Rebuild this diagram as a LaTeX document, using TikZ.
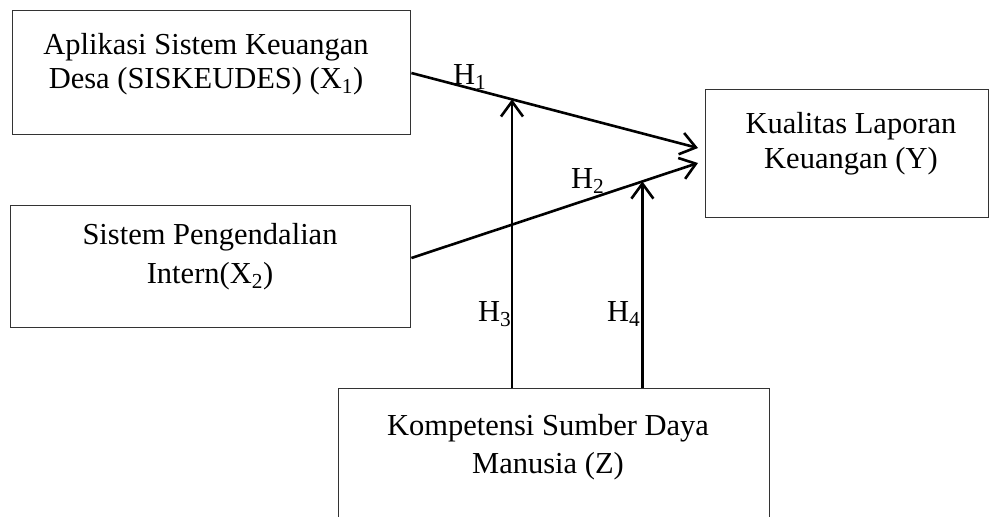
\documentclass[tikz,border=0pt]{standalone}
\usepackage{fontspec}
\setmainfont{Liberation Serif}
\usetikzlibrary{arrows.meta,calc}
\begin{document}
\begin{tikzpicture}[x=1pt,y=-1pt,
  box/.style={draw=black!80, line width=1.4pt, inner sep=0pt, anchor=north west},
  txt/.style={anchor=base, inner sep=0pt, font=\fontsize{30.5}{36}\selectfont},
  hl/.style={anchor=base west, inner sep=0pt, font=\fontsize{30.5}{36}\selectfont},
  arr/.style={line width=2.6pt, -{Straight Barb[length=15pt,width=22pt]}}]
\useasboundingbox (0,0) rectangle (989,517);
\clip (0,0) rectangle (989,517);
% boxes
\node[box, minimum width=398pt, minimum height=124pt] (x1) at (12,10) {};
\node[box, minimum width=400pt, minimum height=122pt] (x2) at (10,205) {};
\node[box, minimum width=283pt, minimum height=128pt] (y) at (705,89) {};
\node[box, minimum width=431pt, minimum height=150pt] (z) at (338,388) {};
% texts
\node[txt] (x1a) at (206,54) {Aplikasi Sistem Keuangan};
\node[txt] (x1b) at (206,88) {Desa (SISKEUDES) (X\textsubscript{1})};
\node[txt] (x2a) at (210,244) {Sistem Pengendalian};
\node[txt] (x2b) at (210,283) {Intern(X\textsubscript{2})};
\node[txt] (ya) at (851,133) {Kualitas Laporan};
\node[txt] (yb) at (851,168) {Keuangan (Y)};
\node[txt] (za) at (548,435) {Kompetensi Sumber Daya};
\node[txt] (zb) at (548,473) {Manusia (Z)};
% connectors
\coordinate (h1s) at ($(x1.north east)+(0,63)$);
\coordinate (h1e) at ($(y.north west)+(-7,59)$);
\coordinate (h2s) at ($(x2.north east)+(0,53)$);
\coordinate (h2e) at ($(y.north west)+(-7,74)$);
\draw[arr] (h1s) -- (h1e);
\draw[arr] (h2s) -- (h2e);
\coordinate (t3) at ($(h1s)!0.351!(h1e)$);
\coordinate (t4) at ($(h2s)!0.806!(h2e)$);
\draw[arr] (t3 |- z.north) -- (t3);
\draw[arr] (t4 |- z.north) -- (t4);
% labels
\node[hl] (l1) at (453,84) {H\textsubscript{1}};
\node[hl] (l2) at (571,188) {H\textsubscript{2}};
\node[hl] (l3) at (478,321) {H\textsubscript{3}};
\node[hl] (l4) at (607,321) {H\textsubscript{4}};
\end{tikzpicture}
\end{document}
